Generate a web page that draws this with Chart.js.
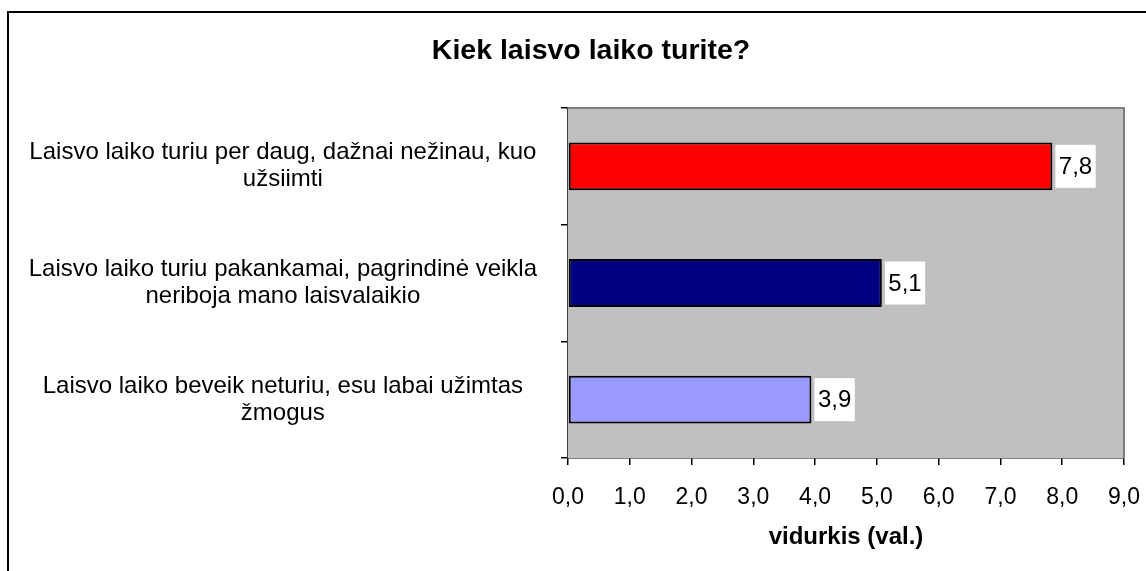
<!DOCTYPE html>
<html lang="lt">
<head>
    <meta charset="UTF-8">
    <title>Kiek laisvo laiko turite?</title>
    <style>
        body {
            margin: 0;
            width: 1146px;
            height: 571px;
            overflow: hidden;
            background: #ffffff;
            font-family: Arial, "Liberation Sans", sans-serif;
        }
        .frame {
            position: absolute;
            left: 7px;
            top: 11px;
            width: 1200px;
            height: 620px;
            border: 2px solid #000000;
        }
        .container {
            position: absolute;
            left: 0;
            top: 0;
            width: 1146px;
            height: 571px;
        }
    </style>
</head>
<body>
    <div class="frame"></div>
    <div class="container">
        <canvas id="freeTimeChart"></canvas>
    </div>

    <script src="https://cdn.jsdelivr.net/npm/chart.js"></script>
    <script>
        // Chart data
        const chartTitle = 'Kiek laisvo laiko turite?';
        const axisTitle = 'vidurkis (val.)';
        const categories = [
            ['Laisvo laiko turiu per daug, dažnai nežinau, kuo', 'užsiimti'],
            ['Laisvo laiko turiu pakankamai, pagrindinė veikla', 'neriboja mano laisvalaikio'],
            ['Laisvo laiko beveik neturiu, esu labai užimtas', 'žmogus']
        ];
        const averages = [7.84, 5.08, 3.94];
        const barColors = ['#FF0000', '#000080', '#9999FF'];
        const xTickMin = 0;
        const xTickMax = 9;
        const xTickStep = 1;

        const toComma = v => Number(v).toFixed(1).replace('.', ',');
        const FONT = 'Arial, "Liberation Sans", sans-serif';

        Chart.defaults.font.family = FONT;
        Chart.defaults.color = '#000000';

        // grey plot area with grey top/right edge, plus the chart title
        const plotBackground = {
            id: 'plotBackground',
            beforeDatasetsDraw(chart) {
                const { ctx, chartArea: a } = chart;
                ctx.save();
                ctx.fillStyle = '#C0C0C0';
                ctx.fillRect(a.left, a.top, a.right - a.left, a.bottom - a.top);
                ctx.strokeStyle = '#808080';
                ctx.lineWidth = 2;
                ctx.beginPath();
                ctx.moveTo(a.left, a.top);
                ctx.lineTo(a.right, a.top);
                ctx.lineTo(a.right, a.bottom);
                ctx.stroke();
                ctx.restore();
            },
            afterDraw(chart) {
                const { ctx } = chart;
                ctx.save();
                ctx.font = 'bold 28.5px ' + FONT;
                ctx.fillStyle = '#000000';
                ctx.textAlign = 'center';
                ctx.textBaseline = 'middle';
                ctx.fillText(chartTitle, 591, 51);
                ctx.restore();
            }
        };

        // value labels in white boxes next to each bar
        const valueLabels = {
            id: 'valueLabels',
            afterDatasetsDraw(chart) {
                const { ctx } = chart;
                const meta = chart.getDatasetMeta(0);
                ctx.save();
                ctx.font = '24px ' + FONT;
                ctx.textBaseline = 'middle';
                ctx.textAlign = 'left';
                meta.data.forEach((bar, i) => {
                    const text = toComma(chart.data.datasets[0].data[i]);
                    const w = ctx.measureText(text).width;
                    const left = bar.x + 3;
                    ctx.fillStyle = '#ffffff';
                    ctx.fillRect(left, bar.y - 21.5, w + 7, 43);
                    ctx.fillStyle = '#000000';
                    ctx.fillText(text, left + 3.5, bar.y + 1);
                });
                ctx.restore();
            }
        };

        const ctx = document.getElementById('freeTimeChart').getContext('2d');

        new Chart(ctx, {
            type: 'bar',
            data: {
                labels: categories,
                datasets: [{
                    data: averages,
                    backgroundColor: barColors,
                    borderColor: '#000000',
                    borderWidth: 2,
                    borderSkipped: false,
                    barPercentage: 0.41,
                    categoryPercentage: 1
                }]
            },
            options: {
                indexAxis: 'y',
                responsive: true,
                maintainAspectRatio: false,
                animation: false,
                layout: {
                    padding: { left: 24, right: 22, top: 108, bottom: 0 }
                },
                plugins: {
                    legend: { display: false },
                    tooltip: { enabled: false },
                    title: { display: false }
                },
                scales: {
                    x: {
                        min: xTickMin,
                        max: xTickMax,
                        ticks: {
                            stepSize: xTickStep,
                            color: '#000000',
                            font: { size: 23 },
                            padding: 19,
                            callback: v => toComma(v)
                        },
                        grid: {
                            drawOnChartArea: false,
                            drawTicks: true,
                            tickLength: 7,
                            color: '#000000',
                            lineWidth: 1.5
                        },
                        border: { display: true, color: '#000000', width: 1.5 },
                        title: {
                            display: true,
                            text: axisTitle,
                            color: '#000000',
                            font: { size: 24, weight: 'bold' },
                            padding: { top: 10, bottom: 19 }
                        },
                        afterFit(scale) {
                            scale.height = 113;
                            scale.paddingRight = 18;
                        }
                    },
                    y: {
                        ticks: {
                            color: '#000000',
                            font: { size: 24, lineHeight: 1.125 },
                            crossAlign: 'center',
                            padding: 24,
                            autoSkip: false
                        },
                        grid: {
                            drawOnChartArea: false,
                            drawTicks: true,
                            tickLength: 7,
                            color: '#000000',
                            lineWidth: 1.5
                        },
                        border: { display: true, color: '#404040', width: 2 },
                        afterFit(scale) {
                            scale.width = 544;
                        }
                    }
                }
            },
            plugins: [plotBackground, valueLabels]
        });
    </script>
</body>
</html>
